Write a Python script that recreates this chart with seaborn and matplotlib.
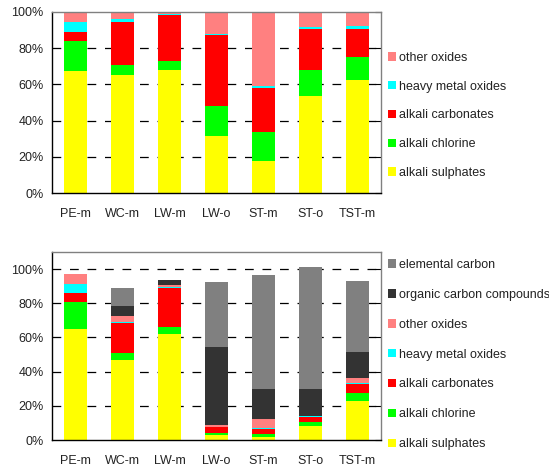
import numpy as np
import pandas as pd
import matplotlib
matplotlib.use("Agg")
import matplotlib.pyplot as plt
from matplotlib.patches import Patch
import seaborn as sns

samples = ["PE-m", "WC-m", "LW-m", "LW-o", "ST-m", "ST-o", "TST-m"]

# top panel: inorganic fraction only (%)
top_sulphates  = [67.2, 65.0, 67.8, 31.3, 17.5, 53.4, 62.2]
top_chlorine   = [16.6,  5.5,  4.9, 16.6, 16.0, 14.4, 12.8]
top_carbonates = [ 5.0, 24.0, 25.5, 39.2, 24.5, 22.6, 15.4]
top_heavy      = [ 5.7,  1.5,  0.5,  0.9,  1.1,  1.1,  1.9]
top_other      = [ 5.5,  4.0,  1.3, 12.0, 40.9,  8.5,  7.7]

# bottom panel: with carbon compounds (%)
bot_sulphates  = [64.9, 46.8, 62.0,  2.9,  1.9,  8.2, 22.8]
bot_chlorine   = [15.8,  3.9,  4.1,  1.4,  1.6,  2.5,  4.5]
bot_carbonates = [ 5.5, 17.9, 22.8,  3.3,  3.1,  2.8,  5.4]
bot_heavy      = [ 5.2,  0.6,  0.6,  0.2,  0.6,  0.3,  0.4]
bot_other      = [ 5.7,  3.3,  1.1,  1.0,  5.1,  0.4,  3.4]
bot_organic    = [ 0.0,  5.9,  3.0, 45.6, 17.5, 15.6, 15.0]
bot_elemental  = [ 0.0, 10.5,  0.0, 38.0, 66.7, 71.4, 41.5]

COLORS = {"alkali sulphates": "#FFFF00", "alkali chlorine": "#00FF00",
          "alkali carbonates": "#FF0000", "heavy metal oxides": "#00FFFF",
          "other oxides": "#FF8080", "organic carbon compounds": "#333333",
          "elemental carbon": "#808080"}

top_df = pd.DataFrame({"alkali sulphates": top_sulphates, "alkali chlorine": top_chlorine,
                       "alkali carbonates": top_carbonates, "heavy metal oxides": top_heavy,
                       "other oxides": top_other}, index=samples)
bot_df = pd.DataFrame({"alkali sulphates": bot_sulphates, "alkali chlorine": bot_chlorine,
                       "alkali carbonates": bot_carbonates, "heavy metal oxides": bot_heavy,
                       "other oxides": bot_other, "organic carbon compounds": bot_organic,
                       "elemental carbon": bot_elemental}, index=samples)

sns.set_theme(style="white")
plt.rcParams["font.family"] = ["Liberation Sans", "DejaVu Sans"]
FS = 9
GRAY = "#808080"

fig = plt.figure(figsize=(5.49, 4.68), dpi=100)
ax1 = fig.add_axes([0.0947, 0.5876, 0.599, 0.387])
ax2 = fig.add_axes([0.0947, 0.0598, 0.599, 0.4017])

def stacked(ax, df, ymax, gridtop, leg_y, spacing):
    cum = df.cumsum(axis=1)
    cols = list(df.columns)
    for c in reversed(cols):
        sns.barplot(x=samples, y=cum[c].values, color=COLORS[c], width=0.5,
                    saturation=1, linewidth=0, ax=ax)
    ax.set_xlim(-0.5, len(samples) - 0.5)
    ax.set_ylim(0, ymax)
    ax.set_yticks(np.arange(0, 101, 20))
    ax.set_yticklabels([f"{v}%" for v in range(0, 101, 20)], fontsize=FS, color="#222222")
    ax.set_xticks(range(len(samples)))
    ax.set_xticklabels(samples, fontsize=FS, color="#222222")
    ax.set_xticks(np.arange(-0.5, len(samples)), minor=True)
    ax.tick_params(axis="x", which="major", length=0, pad=11)
    ax.tick_params(axis="x", which="minor", length=3, width=0.8, color="black", direction="out")
    ax.tick_params(axis="y", length=3.6, width=0.8, color="black", direction="out", pad=2.5)
    ax.set_axisbelow(True)
    for v in range(20, gridtop + 1, 20):
        ax.axhline(v, color="black", lw=0.9, ls=(0, (7, 7)), zorder=0.5)
    for s in ("left", "bottom"):
        ax.spines[s].set_color("black"); ax.spines[s].set_linewidth(1.0)
    ax.spines["top"].set_color(GRAY); ax.spines["top"].set_linewidth(1.0)
    ax.spines["right"].set_visible(False)
    sec = ax.secondary_yaxis("right")
    sec.set_yticks(np.arange(0, 101, 20))
    sec.tick_params(direction="in", length=4, width=0.8, color="black", labelright=False)
    sec.spines["right"].set_color(GRAY); sec.spines["right"].set_linewidth(1.0)
    ax.set_xlabel(""); ax.set_ylabel("")
    handles = [Patch(facecolor=COLORS[c], edgecolor="none") for c in reversed(cols)]
    leg = ax.legend(handles, list(reversed(cols)), loc="upper left", bbox_to_anchor=(0.7067, leg_y),
                    bbox_transform=fig.transFigure, frameon=False, fontsize=FS, borderpad=0,
                    borderaxespad=0, handlelength=0.65, handleheight=0.65, handletextpad=0.2,
                    labelspacing=spacing)
    for t in leg.get_texts():
        t.set_color("#222222")

stacked(ax1, top_df, 100, 80, 0.889, 1.34)
stacked(ax2, bot_df, 110, 100, 0.4466, 1.43)

fig.savefig("out.png", dpi=100)
